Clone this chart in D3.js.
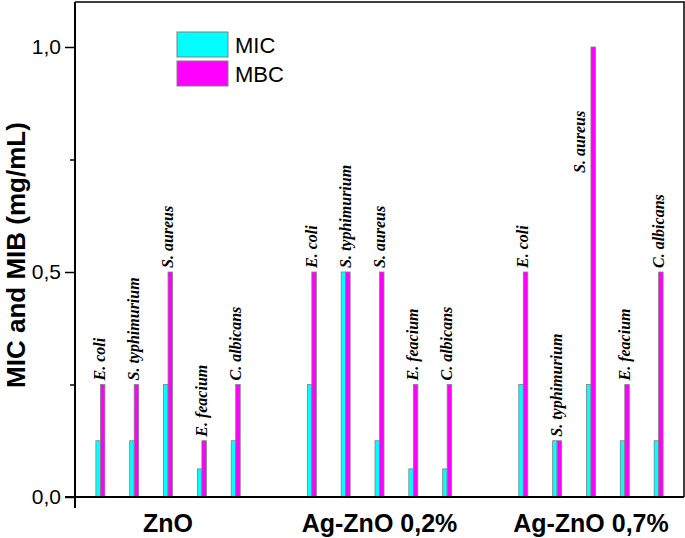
<!DOCTYPE html>
<html>
<head>
<meta charset="utf-8">
<script src="https://cdn.jsdelivr.net/npm/d3@7"></script>
<style>
    body { margin: 0; background: #fff; }
    text { font-family: "Liberation Sans", Arial, sans-serif; }
    .species { font-family: "Liberation Serif", "Times New Roman", serif; font-style: italic; font-weight: bold; font-size: 16px; }
</style>
</head>
<body>
<div id="the_chart"></div>
<script>
var groups = ["ZnO", "Ag-ZnO 0,2%", "Ag-ZnO 0,7%"];
var species = ["E. coli", "S. typhimurium", "S. aureus", "E. feacium", "C. albicans"];
// one row per group, one value per species (mg/mL)
var mic = [
    [0.125, 0.125, 0.25, 0.0625, 0.125],
    [0.25, 0.5, 0.125, 0.0625, 0.0625],
    [0.25, 0.125, 0.25, 0.125, 0.125]
];
var mbc = [
    [0.25, 0.25, 0.5, 0.125, 0.25],
    [0.5, 0.5, 0.5, 0.25, 0.25],
    [0.5, 0.125, 1.0, 0.25, 0.5]
];
var yTicks = [0, 0.25, 0.5, 0.75, 1.0];
var yLabels = ["0,0", "", "0,5", "", "1,0"];

var w = 685;
var h = 538;
var pLeft = 75, pRight = 684, pTop = 2, pBottom = 497; // plot box
var bar_w = 4.5;
var groupStep = 6.25; // slots between first bars of two groups

var svg = d3.select("#the_chart")
    .append("svg")
    .attr("width", w)
    .attr("height", h);

var yscale = d3.scaleLinear()
    .domain([0, 1.1])
    .range([pBottom, pTop]);

var xscale = d3.scaleLinear() // slot index -> pixel
    .domain([-0.75, 17.25])
    .range([pLeft, pRight]);

// flatten the table
var rows = [];
groups.forEach(function(g, gi) {
    species.forEach(function(s, si) {
        rows.push({group: g, name: s, slot: gi * groupStep + si, mic: mic[gi][si], mbc: mbc[gi][si]});
    });
});

// MIC bars (left of the slot)
svg.selectAll("rect.mic")
    .data(rows)
    .enter().append("rect")
    .attr("class", "mic")
    .attr("x", function(d) { return xscale(d.slot) - bar_w; })
    .attr("y", function(d) { return yscale(d.mic); })
    .attr("width", bar_w)
    .attr("height", function(d) { return pBottom - yscale(d.mic); })
    .attr("fill", "#00ffff")
    .attr("stroke", "#808080")
    .attr("stroke-width", 0.8);

// MBC bars (right of the slot)
svg.selectAll("rect.mbc")
    .data(rows)
    .enter().append("rect")
    .attr("class", "mbc")
    .attr("x", function(d) { return xscale(d.slot); })
    .attr("y", function(d) { return yscale(d.mbc); })
    .attr("width", bar_w)
    .attr("height", function(d) { return pBottom - yscale(d.mbc); })
    .attr("fill", "#ff00ff")
    .attr("stroke", "#808080")
    .attr("stroke-width", 0.8);

// species names, vertical, above the highest bar
svg.selectAll("text.species")
    .data(rows)
    .enter().append("text")
    .attr("class", "species")
    .attr("transform", function(d) {
        var top_v = Math.max(d.mic, d.mbc);
        if (top_v > 0.9) { // too tall: put the name beside the bar
            return "translate(" + (xscale(d.slot) - 6) + "," + yscale(0.72) + ") rotate(-90)";
        }
        return "translate(" + (xscale(d.slot) + 5) + "," + (yscale(top_v) - 4) + ") rotate(-90)";
    })
    .text(function(d) { return d.name; });

// y axis ticks
var yaxis = d3.axisLeft(yscale)
    .tickValues(yTicks)
    .tickFormat(function(d, i) { return yLabels[i]; })
    .tickPadding(4);

var yg = svg.append("g")
    .attr("transform", "translate(" + pLeft + ",0)")
    .call(yaxis);
yg.select(".domain").remove();
yg.selectAll(".tick line")
    .attr("x2", function(d, i) { return yLabels[i] ? -10 : -5; })
    .attr("stroke-width", 1.5);
yg.selectAll(".tick text")
    .attr("font-size", 21)
    .attr("font-family", "Liberation Sans, Arial, sans-serif")
    .attr("x", -14)
    .attr("fill", "#000");

// axes and frame
svg.append("line").attr("x1", pLeft).attr("x2", pLeft).attr("y1", pTop).attr("y2", pBottom + 11)
    .attr("stroke", "#000").attr("stroke-width", 2);
svg.append("line").attr("x1", pLeft - 10).attr("x2", pRight).attr("y1", pBottom).attr("y2", pBottom)
    .attr("stroke", "#000").attr("stroke-width", 2);
svg.append("path")
    .attr("d", "M" + pLeft + "," + pTop + "H" + pRight + "V" + pBottom)
    .attr("fill", "none")
    .attr("stroke", "#000")
    .attr("stroke-width", 1.5);

// group names under the axis
svg.selectAll("text.group")
    .data(groups)
    .enter().append("text")
    .attr("class", "group")
    .attr("x", function(d, i) { return xscale(i * groupStep + 2); })
    .attr("y", 532)
    .attr("text-anchor", "middle")
    .attr("font-size", 25)
    .attr("font-weight", "bold")
    .text(function(d) { return d; });

// y title
svg.append("text")
    .attr("transform", "translate(25," + 255 + ") rotate(-90)")
    .attr("text-anchor", "middle")
    .attr("font-size", 26)
    .attr("font-weight", "bold")
    .text("MIC and MIB (mg/mL)");

// legend
var legend = [{name: "MIC", color: "#00ffff"}, {name: "MBC", color: "#ff00ff"}];
var lg = svg.selectAll("g.legend")
    .data(legend)
    .enter().append("g")
    .attr("transform", function(d, i) { return "translate(177," + (32 + i * 29) + ")"; });
lg.append("rect")
    .attr("width", 51)
    .attr("height", 25)
    .attr("fill", function(d) { return d.color; })
    .attr("stroke", "#808080")
    .attr("stroke-width", 1);
lg.append("text")
    .attr("x", 58)
    .attr("y", 21)
    .attr("font-size", 22)
    .text(function(d) { return d.name; });
</script>
</body>
</html>
